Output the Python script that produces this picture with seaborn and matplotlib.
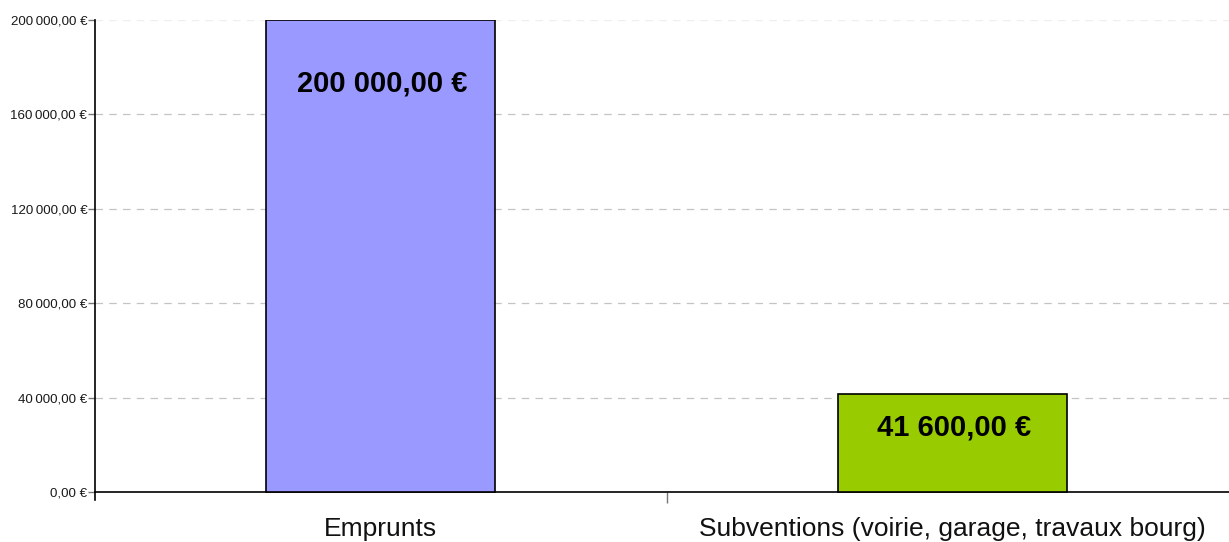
import pandas as pd
import numpy as np
import seaborn as sns
import matplotlib.pyplot as plt
from matplotlib.ticker import FixedLocator

# data
categories = ['Emprunts', 'Subventions (voirie, garage, travaux bourg)']
amounts = [200000.00, 41600.00]
bar_colors = ['#9999FF', '#99CC00']
y_ticks = [0, 40000, 80000, 120000, 160000, 200000]


def fmt_eur(v, sep):
    # french style: space for thousands, comma for decimals
    s = f'{v:,.2f}'.replace(',', 'X').replace('.', ',').replace('X', sep)
    return s + ' €'


df = pd.DataFrame({'poste': categories, 'montant': amounts})

sns.set_theme(style='white')
plt.rcParams['font.family'] = ['Liberation Sans', 'DejaVu Sans']

fig = plt.figure(figsize=(12.29, 5.42), dpi=100)
ax = fig.add_axes([95 / 1229, 1 - 500 / 542, 1143 / 1229, 480 / 542])

sns.barplot(data=df, x='poste', y='montant', hue='poste', palette=bar_colors,
            width=0.4, edgecolor='black', linewidth=1.2, legend=False,
            saturation=1, ax=ax, zorder=3)

ax.set_xlim(-0.5, 1.5)
ax.set_ylim(-3400, 200000)

# spines
for side in ['top', 'right']:
    ax.spines[side].set_visible(False)
ax.spines['bottom'].set_position(('data', 0))
ax.spines['left'].set_color('black')
ax.spines['bottom'].set_color('black')
ax.spines['left'].set_linewidth(1.2)
ax.spines['bottom'].set_linewidth(1.2)

# y axis
ax.set_yticks(y_ticks)
ax.set_yticklabels([fmt_eur(v, '\u2009') for v in y_ticks], fontsize=9.6, color='#1a1a1a')
ax.tick_params(axis='y', direction='out', length=5, width=1, color='#777777', pad=0.5, left=True)
for v in y_ticks[1:]:
    c = '#c4c4c4' if v < 200000 else '#eeeeee'
    ax.axhline(v, color=c, linestyle=(0, (6, 5)), linewidth=0.9, zorder=1)

# x axis: category labels centred, separator tick between bars
ax.set_xticks([0, 1])
ax.set_xticklabels(categories, fontsize=19, color='#111111')
ax.tick_params(axis='x', length=0, pad=18)
ax.xaxis.set_minor_locator(FixedLocator([0.5]))
ax.tick_params(axis='x', which='minor', bottom=True, length=8, width=1, color='#777777', direction='out')

ax.set_xlabel('')
ax.set_ylabel('')
ax.grid(False)

# value labels inside the bars
label_drop = [64, 34]
for i, v in enumerate(amounts):
    ax.annotate(fmt_eur(v, ' '), xy=(i, v), xytext=(1, -label_drop[i] * 0.72),
                textcoords='offset points', ha='center', va='center',
                fontsize=21, fontweight='bold', color='black', zorder=5)

fig.savefig('out.png', dpi=100)
